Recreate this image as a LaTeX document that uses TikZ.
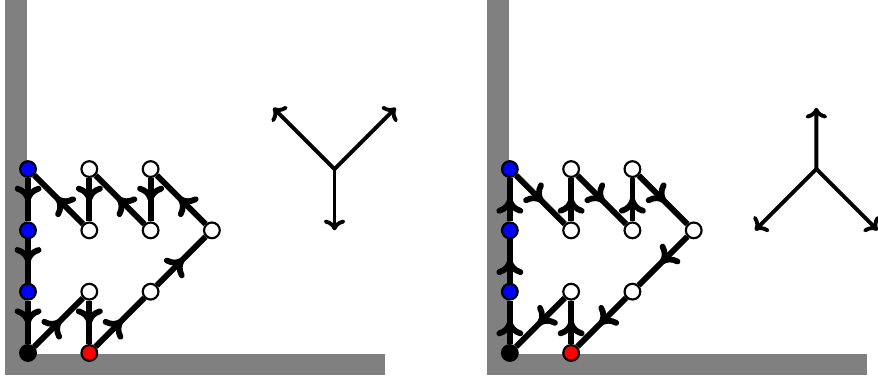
\documentclass[tikz,border=0pt]{standalone}
\usetikzlibrary{arrows.meta,decorations.markings}
\begin{document}
\begin{tikzpicture}[
        site/.style={circle,draw,line width=1pt,fill=white,inner sep=0pt,minimum size=7.3pt},
        flow/.style={line width=2.7pt,postaction={decorate},
            decoration={markings,mark=at position 0.55 with {\arrow{To[length=7.5pt,width=12.5pt]}}}},
        spoke/.style={line width=1.8pt,-{To[length=5pt,width=10pt]}}
    ]
        \useasboundingbox (-0.457,-0.522) rectangle (13.866,5.758);
        % walls and sites of both panels
        \foreach \p/\s in {l/0,r/7.86} {
            \begin{scope}[xshift=\s cm]
                \fill[gray] (-0.375,-0.36) rectangle (-0.016,5.758);
                \fill[gray] (-0.375,-0.36) rectangle (5.82,-0.016);
                \node[site,fill=black] (\p00) at (0,0) {};
                \node[site,fill=red] (\p10) at (1,0) {};
                \foreach \y in {1,2,3} \node[site,fill=blue] (\p0\y) at (0,\y) {};
                \foreach \x/\y in {1/1,2/1,3/2,1/2,2/2,1/3,2/3} \node[site] (\p\x\y) at (\x,\y) {};
                \coordinate (\p hub) at (5,3);
            \end{scope}
        }
        % the loop, one way on the left and the other way on the right
        \foreach \a/\b in {00/11,11/10,10/21,21/32,32/23,23/22,22/13,13/12,12/03,03/02,02/01,01/00} {
            \draw[flow] (l\a) -- (l\b);
            \draw[flow] (r\b) -- (r\a);
        }
        \coordinate (lnw) at (4,4);
        \coordinate (lne) at (6,4);
        \coordinate (ls) at (5,2);
        \coordinate (rn) at (12.86,4);
        \coordinate (rsw) at (11.86,2);
        \coordinate (rse) at (13.86,2);
        \draw[spoke] (lhub) -- (lnw);
        \draw[spoke] (lhub) -- (lne);
        \draw[spoke] (lhub) -- (ls);
        \draw[spoke] (rhub) -- (rn);
        \draw[spoke] (rhub) -- (rsw);
        \draw[spoke] (rhub) -- (rse);
    \end{tikzpicture}
\end{document}
